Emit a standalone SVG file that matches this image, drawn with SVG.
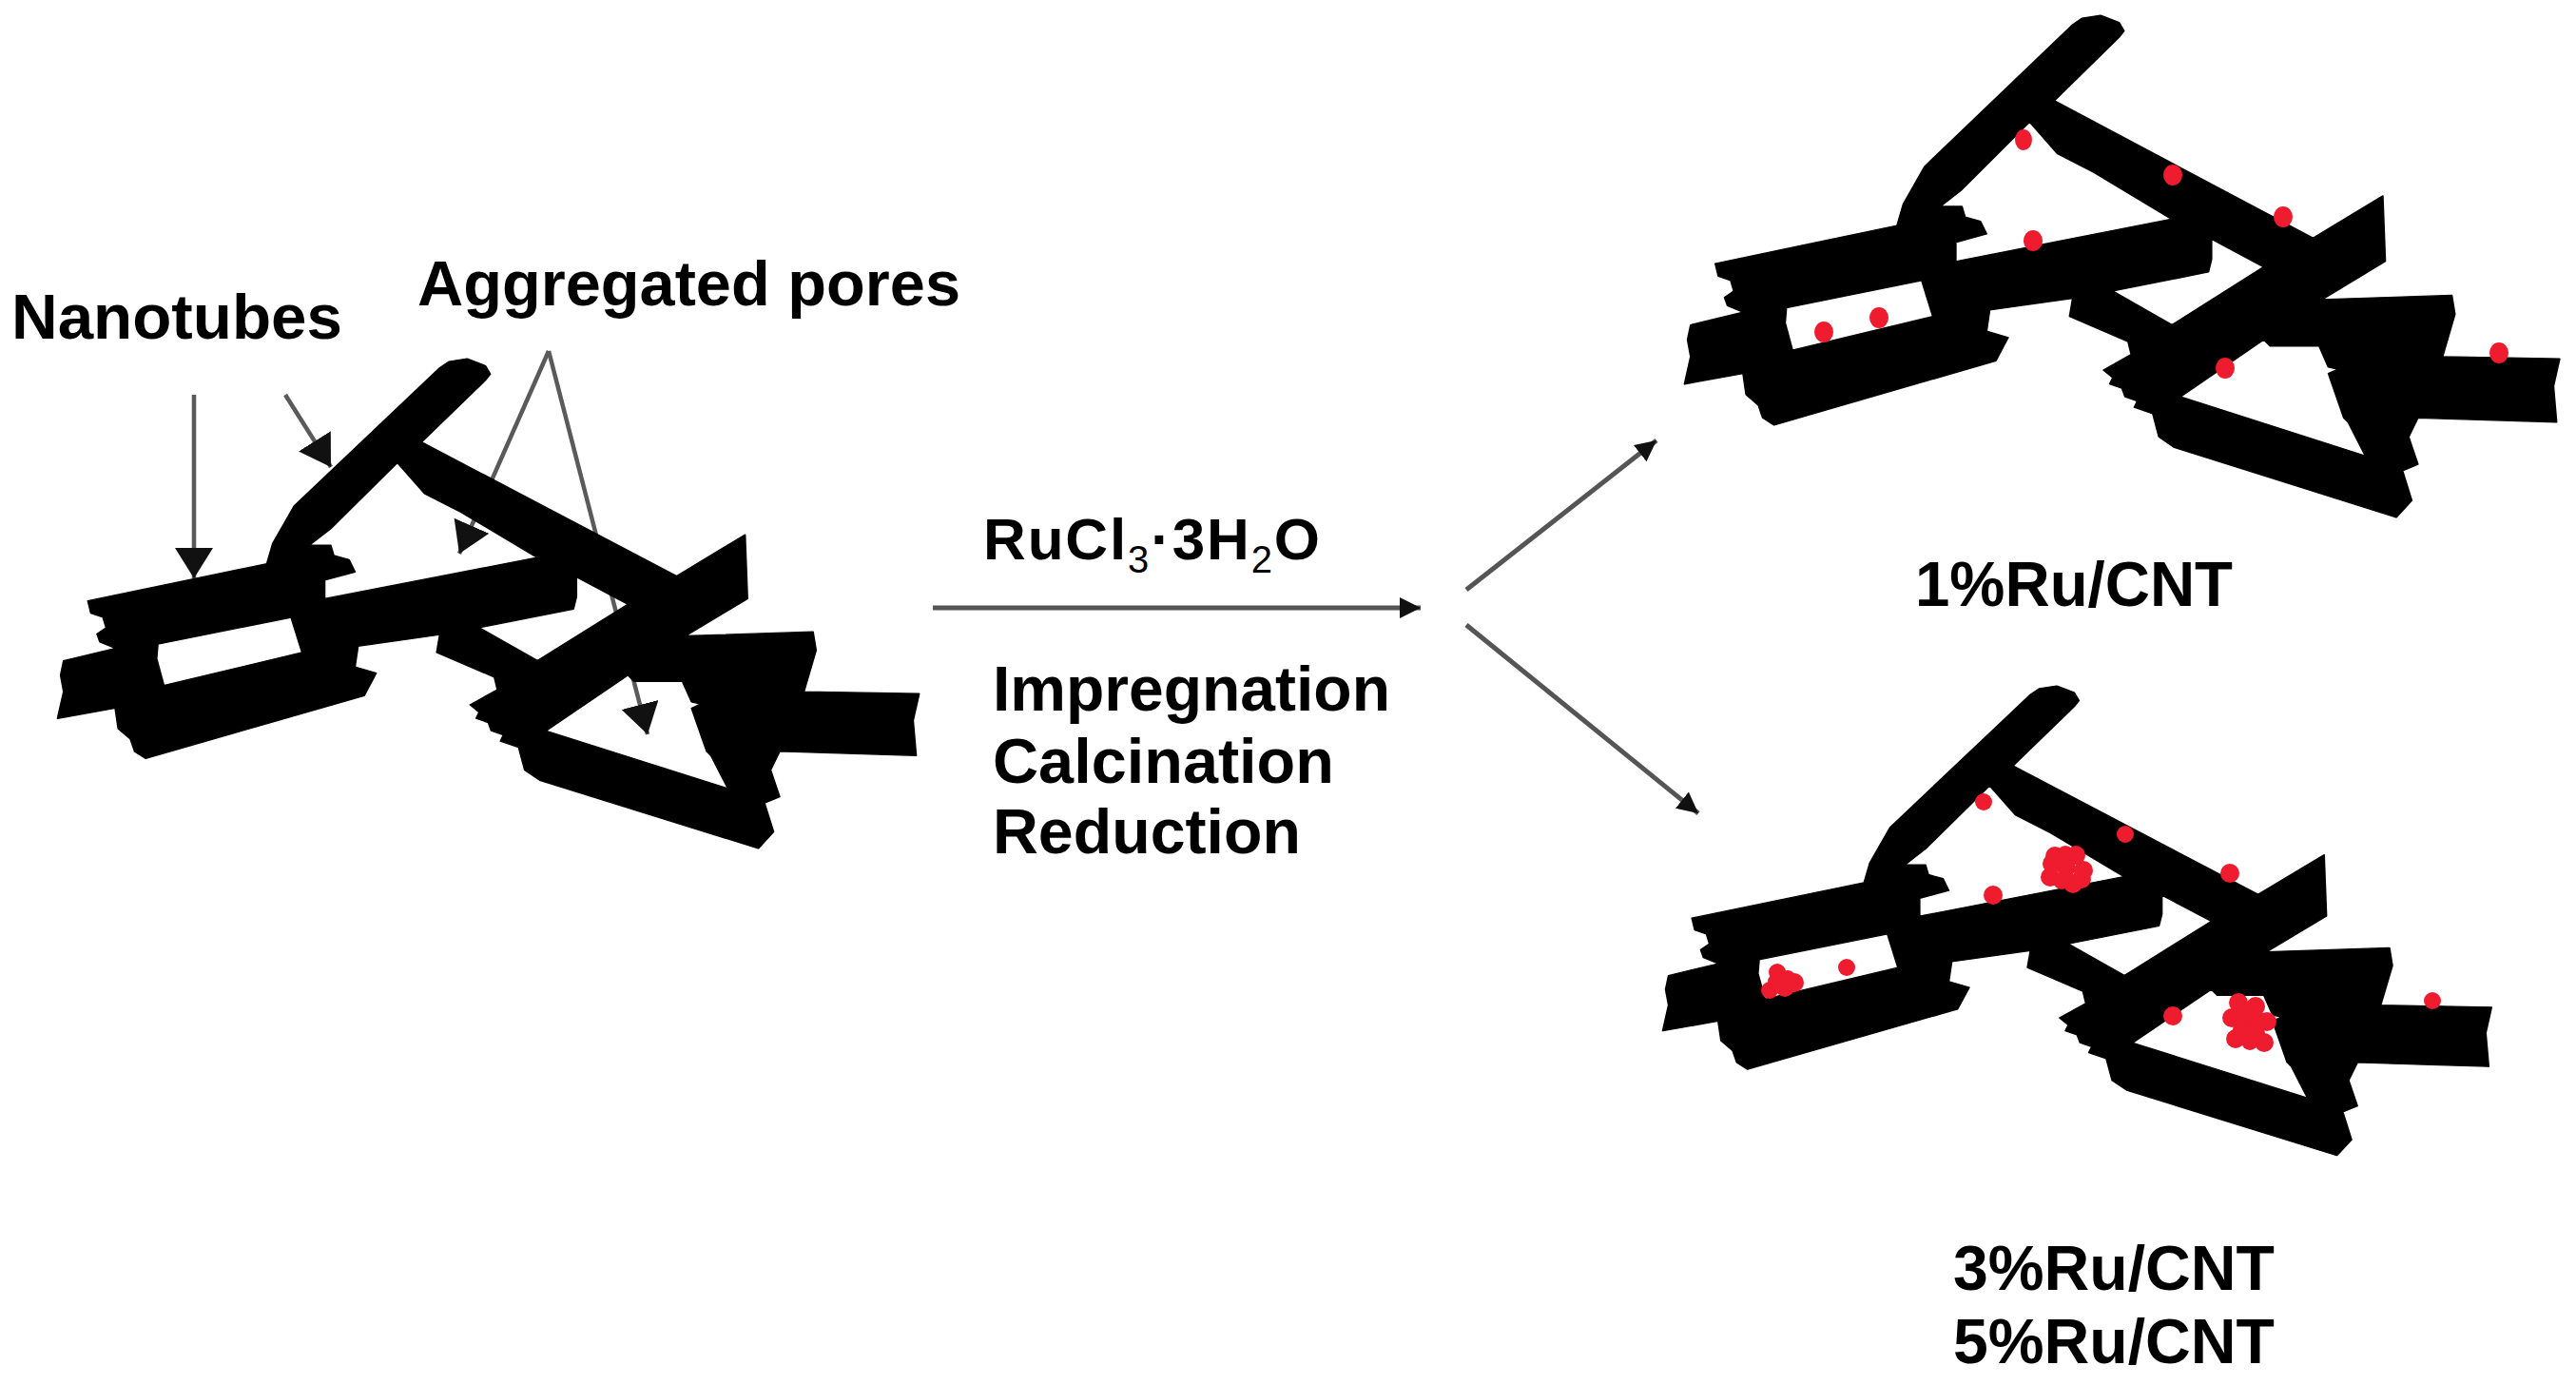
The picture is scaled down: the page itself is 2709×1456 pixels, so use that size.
<svg xmlns="http://www.w3.org/2000/svg" width="2709" height="1456" viewBox="0 0 2709 1456">
<style>
text{font-family:"Liberation Sans",Arial,sans-serif;font-weight:700;fill:#000}
.lbl{font-size:66px}
.sub{font-size:40px;font-weight:400}
.tube{fill:#000;fill-rule:evenodd;stroke:#000;stroke-width:3;stroke-linejoin:round}
.ru{fill:#ee1c2e}
.ptr{fill:none;stroke:#5a5a5a;stroke-width:4.5}
.main{fill:none;stroke:#555;stroke-width:5}
</style>
<defs>
<marker id="head-big" markerUnits="userSpaceOnUse" markerWidth="40" markerHeight="44" refX="32" refY="20" orient="auto"><path d="M0 0L32 20L0 40Z" fill="#111"/></marker>
<marker id="head-small" markerUnits="userSpaceOnUse" markerWidth="28" markerHeight="26" refX="22" refY="12" orient="auto"><path d="M0 1L22 12L0 23Z" fill="#111"/></marker>
<path id="cnt" d="M725 315L740 300L770 293L800 310L808 330L800 345L695 495L1115 820L1228 720L1232 875L1130 965L1340 955L1345 1000L1325 1100L1515 1105L1505 1170L1510 1255L1285 1245L1270 1290L1285 1355L1260 1370L1275 1440L1250 1480L890 1315L865 1290L855 1235L825 1220L830 1205L810 1195L805 1175L785 1165L790 1150L775 1132L820 1095L815 1065L720 1005L725 962L590 990L585 1040L620 1055L600 1110L240 1262L222 1245L215 1215L195 1190L190 1140L95 1165L105 1100L100 1060L105 1025L190 995L165 980L160 960L175 945L170 920L150 910L145 880L440 790L450 740L485 650Z
M655 545L700 620L760 665L885 775L535 875L535 830L585 810L575 780L550 770L545 745L510 745L545 705Z
M260 985L480 920L498 1005L270 1085L258 1020Z
M950 822L1035 888L886 1025L790 945L945 900L950 870Z
M1035 1060L1045 1075L1125 1075L1140 1125L1155 1130L1140 1140L1165 1245L1172 1255L1200 1335L900 1195Z"/>
</defs>
<rect width="2709" height="1456" fill="#fff"/>
<g id="connectors">
<path class="main" d="M981 639H1494" marker-end="url(#head-small)"/>
<path class="main" d="M1542 620L1742 463" marker-end="url(#head-small)"/>
<path class="main" d="M1542 657L1786 855" marker-end="url(#head-small)"/>
<path class="ptr" d="M204 415V608" marker-end="url(#head-big)"/>
<path class="ptr" d="M300 415L348 491" marker-end="url(#head-big)"/>
<path class="ptr" d="M577 369L483 582" marker-end="url(#head-big)"/>
<path class="ptr" d="M577 369L681 772" marker-end="url(#head-big)"/>
</g>
<g id="node-pristine"><use href="#cnt" class="tube" transform="matrix(.638 0 0 .4337 0 250)"/></g>
<g id="node-1ru">
<use href="#cnt" class="tube" transform="matrix(.648 0 0 .4446 1710 -114.2)"/>
<g class="ru"><ellipse cx="2128" cy="147" rx="9" ry="11"/><ellipse cx="2285" cy="184" rx="10" ry="11"/><ellipse cx="2401" cy="228" rx="10" ry="11"/><ellipse cx="2138" cy="253" rx="10" ry="11"/><ellipse cx="1976" cy="334" rx="10" ry="11"/><ellipse cx="1918" cy="349" rx="10" ry="11"/><ellipse cx="2340" cy="387" rx="10" ry="11"/><ellipse cx="2628" cy="371" rx="10" ry="11"/></g>
</g>
<g id="node-3-5ru">
<use href="#cnt" class="tube" transform="matrix(.6138 0 0 .4159 1690.3 599.2)"/>
<g class="ru"><circle cx="2086" cy="843" r="9"/><circle cx="2235" cy="877" r="9"/><circle cx="2345" cy="918" r="10"/><circle cx="2096" cy="941" r="10"/><circle cx="1942" cy="1017" r="9"/><circle cx="2285" cy="1068" r="10"/><circle cx="2558" cy="1052" r="9"/>
<circle cx="2161" cy="900" r="10"/><circle cx="2183" cy="899" r="10"/><circle cx="2173" cy="912" r="10"/><circle cx="2191" cy="915" r="10"/><circle cx="2156" cy="922" r="10"/><circle cx="2180" cy="929" r="10"/><circle cx="2158" cy="908" r="10"/><circle cx="2189" cy="924" r="10"/><circle cx="2168" cy="926" r="9"/><circle cx="2172" cy="898" r="9"/>
<circle cx="1869" cy="1022" r="9"/><circle cx="1887" cy="1033" r="10"/><circle cx="1861" cy="1041" r="9"/><circle cx="1877" cy="1038" r="10"/><circle cx="1868" cy="1032" r="9"/><circle cx="1880" cy="1028" r="8"/>
<circle cx="2354" cy="1054" r="10"/><circle cx="2372" cy="1058" r="10"/><circle cx="2347" cy="1070" r="10"/><circle cx="2366" cy="1071" r="10"/><circle cx="2384" cy="1074" r="10"/><circle cx="2351" cy="1092" r="10"/><circle cx="2372" cy="1086" r="10"/><circle cx="2381" cy="1096" r="10"/><circle cx="2363" cy="1064" r="10"/><circle cx="2358" cy="1082" r="10"/><circle cx="2375" cy="1072" r="9"/><circle cx="2366" cy="1095" r="9"/></g>
</g>
<g id="labels">
<text class="lbl" x="12" y="356" textLength="348" lengthAdjust="spacingAndGlyphs">Nanotubes</text>
<text class="lbl" x="439" y="321" textLength="571" lengthAdjust="spacingAndGlyphs">Aggregated pores</text>
<text class="lbl" x="1034" y="588" textLength="354" lengthAdjust="spacing" style="font-size:62px">RuCl<tspan class="sub" dy="14">3</tspan><tspan dy="-14">·3H</tspan><tspan class="sub" dy="14">2</tspan><tspan dy="-14">O</tspan></text>
<text class="lbl" x="1044" y="747" textLength="418" lengthAdjust="spacingAndGlyphs">Impregnation</text>
<text class="lbl" x="1044" y="823" textLength="359" lengthAdjust="spacingAndGlyphs">Calcination</text>
<text class="lbl" x="1044" y="897" textLength="324" lengthAdjust="spacingAndGlyphs">Reduction</text>
<text class="lbl" x="2014" y="637" textLength="334" lengthAdjust="spacingAndGlyphs">1%Ru/CNT</text>
<text class="lbl" x="2054" y="1356" textLength="338" lengthAdjust="spacingAndGlyphs">3%Ru/CNT</text>
<text class="lbl" x="2054" y="1433" textLength="338" lengthAdjust="spacingAndGlyphs">5%Ru/CNT</text>
</g>
</svg>
